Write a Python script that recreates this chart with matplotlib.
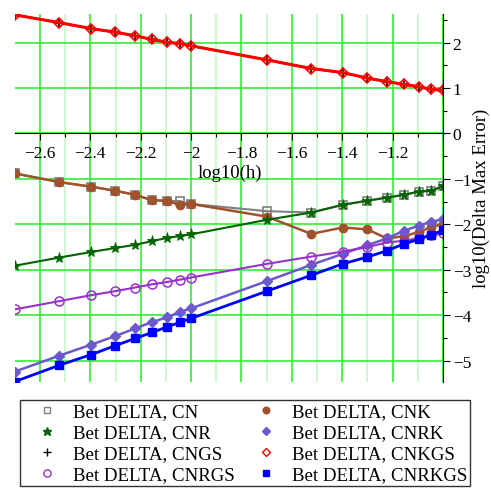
import numpy as np
import matplotlib
matplotlib.use("Agg")
import matplotlib.pyplot as plt
from matplotlib.ticker import MultipleLocator, FuncFormatter

plt.rcParams['font.family'] = ['Liberation Serif', 'DejaVu Serif']

# step sizes and log10 of the max error for each scheme
h = [0.002, 0.003, 0.004, 0.005, 0.006, 0.007, 0.008, 0.009, 0.01,
     0.02, 0.03, 0.04, 0.05, 0.06, 0.07, 0.08, 0.09, 0.1]
cn     = [-0.88, -1.07, -1.17, -1.26, -1.35, -1.47, -1.48, -1.49, -1.55,
          -1.71, -1.74, -1.57, -1.48, -1.41, -1.35, -1.28, -1.26, -1.16]
cnk    = [-0.88, -1.07, -1.17, -1.26, -1.35, -1.47, -1.48, -1.57, -1.55,
          -1.83, -2.21, -2.07, -2.11, -2.31, -2.26, -2.17, -2.06, -1.99]
cnr    = [-2.91, -2.73, -2.61, -2.52, -2.45, -2.37, -2.30, -2.26, -2.22,
          -1.90, -1.74, -1.57, -1.48, -1.41, -1.35, -1.28, -1.26, -1.16]
cnrk   = [-5.24, -4.89, -4.65, -4.46, -4.29, -4.15, -4.05, -3.93, -3.85,
          -3.25, -2.89, -2.65, -2.46, -2.31, -2.14, -2.03, -1.94, -1.89]
cngs   = [2.61, 2.44, 2.31, 2.23, 2.15, 2.07, 2.01, 1.98, 1.93,
          1.62, 1.43, 1.34, 1.22, 1.14, 1.08, 1.03, 0.97, 0.95]
cnkgs  = [2.61, 2.44, 2.31, 2.23, 2.15, 2.07, 2.01, 1.98, 1.93,
          1.62, 1.43, 1.34, 1.22, 1.14, 1.08, 1.03, 0.97, 0.95]
cnrgs  = [-3.87, -3.69, -3.56, -3.47, -3.39, -3.32, -3.27, -3.22, -3.17,
          -2.87, -2.71, -2.60, -2.50, -2.40, -2.36, -2.30, -2.24, -2.20]
cnrkgs = [-5.46, -5.10, -4.87, -4.67, -4.51, -4.38, -4.26, -4.16, -4.07,
          -3.47, -3.12, -2.87, -2.72, -2.58, -2.43, -2.33, -2.23, -2.13]

x = np.log10(h)

fig = plt.figure(figsize=(4.91, 4.89), dpi=100)
ax = fig.add_axes([15/491, 1-383/489, 428/491, 368/489])

lines = {}
lines['CN'] = ax.plot(x, cn, color='#808080', lw=1.5, marker='s', ms=6,
                      mfc='none', mec='#808080', mew=1.2)[0]
lines['CNK'] = ax.plot(x, cnk, color='#a0522d', lw=1.8, marker='o', ms=6,
                       mfc='#a0522d', mec='#a0522d')[0]
lines['CNR'] = ax.plot(x, cnr, color='#006400', lw=1.5, marker='*', ms=8,
                       mfc='#006400', mec='#006400', mew=0.6)[0]
lines['CNRK'] = ax.plot(x, cnrk, color='#6a5acd', lw=1.8, marker='D', ms=5,
                        mfc='#6a5acd', mec='#6a5acd')[0]
lines['CNGS'] = ax.plot(x, cngs, color='black', lw=1.5, marker='+', ms=6.5,
                        mec='black', mew=1.2)[0]
lines['CNKGS'] = ax.plot(x, cnkgs, color='red', lw=2.2, marker='D', ms=5.5,
                         mfc='none', mec='red', mew=1.2)[0]
lines['CNRGS'] = ax.plot(x, cnrgs, color='#9932cc', lw=1.5, marker='o', ms=6.5,
                         mfc='none', mec='#9932cc', mew=1.1)[0]
lines['CNRKGS'] = ax.plot(x, cnrkgs, color='#0000ff', lw=2, marker='s', ms=6,
                          mfc='#0000ff', mec='#0000ff')[0]

ax.set_xlim(x.min(), x.max())
ax.set_ylim(-5.47, 2.63)

# axes cross at y = 0, vertical axis on the right edge
for s in ['top', 'left']:
    ax.spines[s].set_visible(False)
ax.spines['bottom'].set_position(('data', 0))
ax.spines['bottom'].set_zorder(1)
ax.yaxis.tick_right()

ax.xaxis.set_major_locator(MultipleLocator(0.2))
ax.xaxis.set_minor_locator(MultipleLocator(0.1))
ax.yaxis.set_major_locator(MultipleLocator(1))
ax.yaxis.set_minor_locator(MultipleLocator(0.5))

def fmt(v, pos):
    s = ('%.1f' % v).rstrip('0').rstrip('.')
    return s.replace('-', '\u2212')

def xfmt(v, pos):
    if v > -1.05:
        return ''
    return fmt(v, pos)

ax.xaxis.set_major_formatter(FuncFormatter(xfmt))
ax.yaxis.set_major_formatter(FuncFormatter(fmt))
ax.tick_params(axis='both', which='major', labelsize=12.5, length=5, width=0.8)
ax.tick_params(axis='both', which='minor', length=3, width=0.8)
ax.tick_params(axis='x', pad=3)
ax.tick_params(axis='y', pad=2)

ax.grid(True, which='major', color='#33ee33', lw=1.2, zorder=0)
ax.grid(True, which='minor', axis='x', color='#c8f5c8', lw=1.2, zorder=0)
ax.set_axisbelow(True)

fig.text(230/491, 1-173/489, 'log10(h)', fontsize=13.5, ha='center', va='center')
fig.text(481/491, 1-198/489, 'log10(Delta Max Error)', fontsize=13.5,
         rotation=90, ha='center', va='center')

order = ['CN', 'CNR', 'CNGS', 'CNRGS', 'CNK', 'CNRK', 'CNKGS', 'CNRKGS']
handles = []
for k in order:
    l = lines[k]
    hnd = plt.Line2D([], [], ls='none', marker=l.get_marker(),
                     ms=l.get_markersize() * 0.8, mfc=l.get_markerfacecolor(),
                     mec=l.get_markeredgecolor(), mew=1.0)
    handles.append(hnd)
leg = fig.legend(handles, ['Bet DELTA, ' + k for k in order], ncol=2,
                 loc='lower left', bbox_to_anchor=(20/491, 2/489, 450/491, 89/489),
                 mode='expand', fontsize=13.6, frameon=True, fancybox=False,
                 borderaxespad=0, handlelength=2.56, handletextpad=0.1,
                 labelspacing=0.2, borderpad=0.15, columnspacing=1.0)
leg.get_frame().set_edgecolor('black')
leg.get_frame().set_linewidth(1.0)

fig.savefig('out.png', dpi=100)
